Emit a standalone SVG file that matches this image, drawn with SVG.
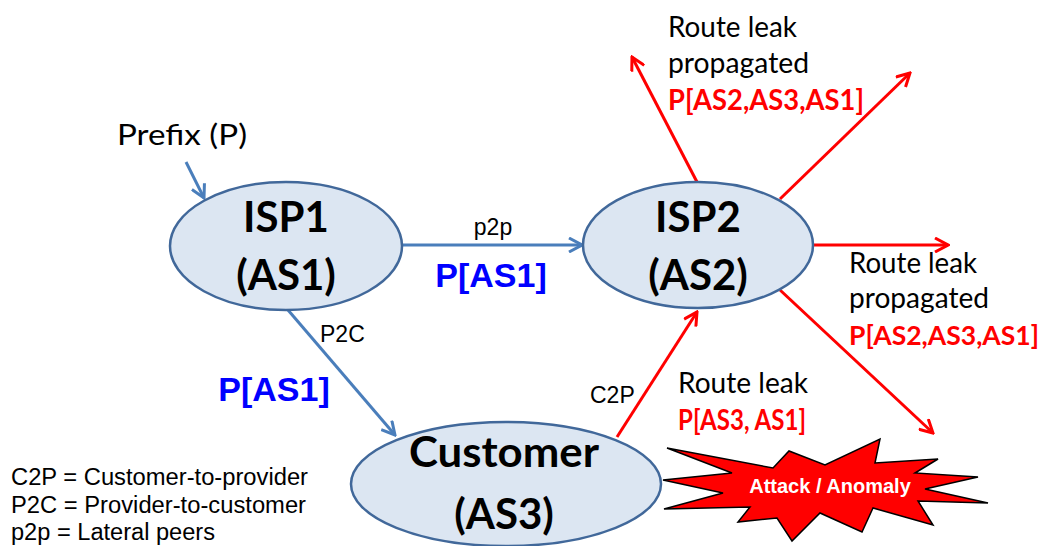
<svg xmlns="http://www.w3.org/2000/svg" width="1046" height="546" viewBox="0 0 1046 546">
<style>
.node{fill:#DCE6F2;stroke:#41689A;stroke-width:2.5}
.nt{font-family:Lato,"Liberation Sans",sans-serif;font-weight:bold;font-size:42px;fill:#000;text-anchor:middle}
.cal{font-family:Lato,"Liberation Sans",sans-serif;font-size:28px;fill:#000}
.calr{font-family:Lato,"Liberation Sans",sans-serif;font-size:28px;font-weight:bold;fill:#FF0000}
.ar{font-family:"Liberation Sans",Arial,sans-serif;font-size:23px;fill:#000}
.blue{font-family:"Liberation Sans",Arial,sans-serif;font-size:34px;font-weight:bold;fill:#0000FF}
.bl{stroke:#4A7EBB;stroke-width:3;fill:none}
.rd{stroke:#FF0000;stroke-width:3;fill:none}
</style>
<defs>
<marker id="mb" viewBox="0 0 16 16" refX="14" refY="8" markerWidth="16" markerHeight="16" markerUnits="userSpaceOnUse" orient="auto">
<path d="M1,1 L14,8 L1,15" fill="none" stroke="#4A7EBB" stroke-width="3"/>
</marker>
<marker id="mr" viewBox="0 0 16 16" refX="14" refY="8" markerWidth="16" markerHeight="16" markerUnits="userSpaceOnUse" orient="auto">
<path d="M1,1 L14,8 L1,15" fill="none" stroke="#FF0000" stroke-width="3"/>
</marker>
</defs>
<rect width="1046" height="546" fill="#FFFFFF"/>

<g id="connectors">
<line class="bl" x1="186" y1="162" x2="204" y2="198" marker-end="url(#mb)"/>
<line class="bl" x1="402" y1="245" x2="582" y2="245" marker-end="url(#mb)"/>
<line class="bl" x1="288" y1="310" x2="395" y2="435" marker-end="url(#mb)"/>
<line class="rd" x1="617" y1="437" x2="697" y2="312" marker-end="url(#mr)"/>
<line class="rd" x1="697" y1="182" x2="632" y2="57" marker-end="url(#mr)"/>
<line class="rd" x1="780" y1="199" x2="910" y2="73" marker-end="url(#mr)"/>
<line class="rd" x1="813" y1="245" x2="948" y2="245" marker-end="url(#mr)"/>
<line class="rd" x1="780" y1="290" x2="933" y2="433" marker-end="url(#mr)"/>
</g>

<g id="isp1">
<ellipse class="node" cx="286" cy="246" rx="116" ry="64"/>
<text class="nt" x="286" y="232">ISP1</text>
<text class="nt" x="286" y="290">(AS1)</text>
</g>
<g id="isp2">
<ellipse class="node" cx="698" cy="245" rx="115" ry="63"/>
<text class="nt" x="698" y="232">ISP2</text>
<text class="nt" x="698" y="290">(AS2)</text>
</g>
<g id="customer">
<ellipse class="node" cx="506" cy="484" rx="155" ry="62"/>
<text class="nt" x="504" y="467" textLength="190" lengthAdjust="spacingAndGlyphs">Customer</text>
<text class="nt" x="504" y="529">(AS3)</text>
</g>
<g id="attack">
<polygon points="667,448 773,468 789,451 825,465 880,439 875,463 938,459 915,473 978,477 925,489 988,503 918,501 933,525 873,508 862,532 820,513 792,541 777,518 738,522 750,507 664,509 723,493 663,480 732,473" fill="#FF0000" stroke="#000" stroke-width="1.5" stroke-linejoin="miter"/>
<text x="830" y="493" font-family="Liberation Sans,Arial,sans-serif" font-size="20" font-weight="bold" fill="#FFFFFF" text-anchor="middle">Attack / Anomaly</text>
</g>

<g id="labels">
<text class="cal" x="117" y="145" textLength="130" lengthAdjust="spacingAndGlyphs">Prefix (P)</text>
<text class="ar" x="493" y="235" text-anchor="middle">p2p</text>
<text class="blue" x="491" y="287" text-anchor="middle">P[AS1]</text>
<text class="ar" x="320" y="342">P2C</text>
<text class="blue" x="274" y="401" text-anchor="middle">P[AS1]</text>
<text class="ar" x="590" y="403">C2P</text>
<text class="cal" x="668" y="37" textLength="129" lengthAdjust="spacingAndGlyphs">Route leak</text>
<text class="cal" x="668" y="73" textLength="141" lengthAdjust="spacingAndGlyphs">propagated</text>
<text class="calr" x="668" y="110" textLength="196" lengthAdjust="spacingAndGlyphs">P[AS2,AS3,AS1]</text>
<text class="cal" x="849" y="273" textLength="128" lengthAdjust="spacingAndGlyphs">Route leak</text>
<text class="cal" x="849" y="308" textLength="140" lengthAdjust="spacingAndGlyphs">propagated</text>
<text class="calr" x="849" y="345" font-size="26" style="font-size:26px" textLength="190" lengthAdjust="spacingAndGlyphs">P[AS2,AS3,AS1]</text>
<text class="cal" x="678" y="393" textLength="130" lengthAdjust="spacingAndGlyphs">Route leak</text>
<text class="calr" x="678" y="430" textLength="128" lengthAdjust="spacingAndGlyphs">P[AS3, AS1]</text>
</g>

<g id="legend">
<text class="ar" x="11" y="485" textLength="297" lengthAdjust="spacingAndGlyphs">C2P = Customer-to-provider</text>
<text class="ar" x="11" y="513" textLength="295" lengthAdjust="spacingAndGlyphs">P2C = Provider-to-customer</text>
<text class="ar" x="11" y="540" textLength="204" lengthAdjust="spacingAndGlyphs">p2p = Lateral peers</text>
</g>
</svg>
